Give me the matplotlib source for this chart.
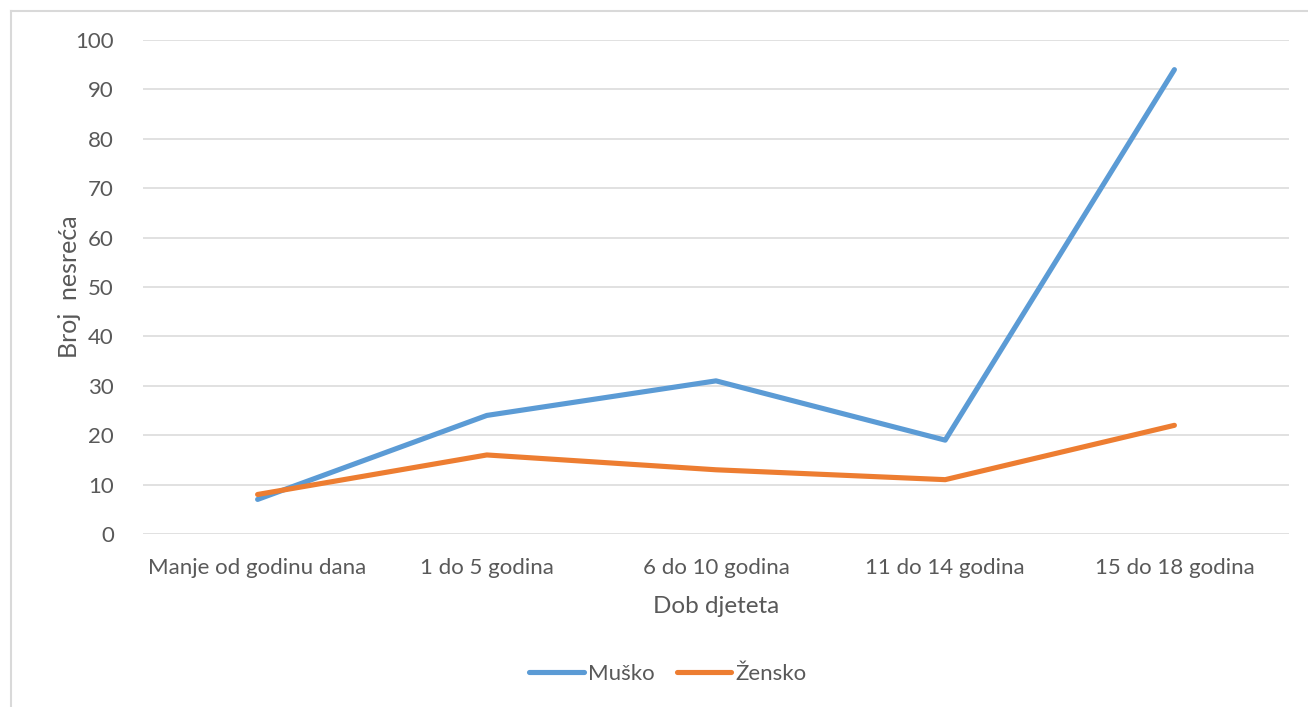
import matplotlib
matplotlib.use("Agg")
import matplotlib.pyplot as plt
from matplotlib.lines import Line2D

categories = ["Manje od godinu dana", "1 do 5 godina", "6 do 10 godina", "11 do 14 godina", "15 do 18 godina"]
musko = [7, 24, 31, 19, 94]
zensko = [8, 16, 13, 11, 22]
yticks = [0, 10, 20, 30, 40, 50, 60, 70, 80, 90, 100]

plt.rcParams['font.family'] = ['Lato', 'DejaVu Sans']
txt = '#595959'
grid = '#D9D9D9'

W, H = 1308, 707
fig = plt.figure(figsize=(W/100, H/100), dpi=100)
ax = fig.add_axes([143/W, 1-534/H, (1289-143)/W, (534-40)/H])

x = list(range(len(categories)))
ax.plot(x, musko, color='#5B9BD5', lw=3.7, solid_capstyle='round', solid_joinstyle='round', label='Muško')
ax.plot(x, zensko, color='#ED7D31', lw=3.7, solid_capstyle='round', solid_joinstyle='round', label='Žensko')

ax.set_xlim(-0.5, len(categories)-0.5)
ax.set_ylim(0, 100)
ax.set_yticks(yticks)
ax.set_xticks(x)
ax.set_xticklabels(categories)
for s in ax.spines.values():
    s.set_visible(False)
ax.grid(axis='y', color=grid, lw=1.1)
ax.set_axisbelow(True)
ax.tick_params(axis='both', length=0, labelsize=16, labelcolor=txt)
ax.tick_params(axis='y', pad=21)
ax.tick_params(axis='x', pad=17)
ax.set_xlabel('Dob djeteta', fontsize=17.5, color=txt, labelpad=13)
ax.set_ylabel('Broj  nesreća', fontsize=18, color=txt, labelpad=-4)

leg = fig.legend(loc='center', bbox_to_anchor=(668/W, 1-674/H), ncol=2, frameon=False,
                 fontsize=16, labelcolor=txt, handlelength=2.45, handletextpad=0.2, columnspacing=1.0)

fig.add_artist(Line2D([11/W, 11/W], [0, 1-11/H], color=grid, lw=1.5, transform=fig.transFigure))
fig.add_artist(Line2D([11/W, 1], [1-11/H, 1-11/H], color=grid, lw=1.5, transform=fig.transFigure))

fig.savefig('out.png', dpi=100, facecolor='white')
